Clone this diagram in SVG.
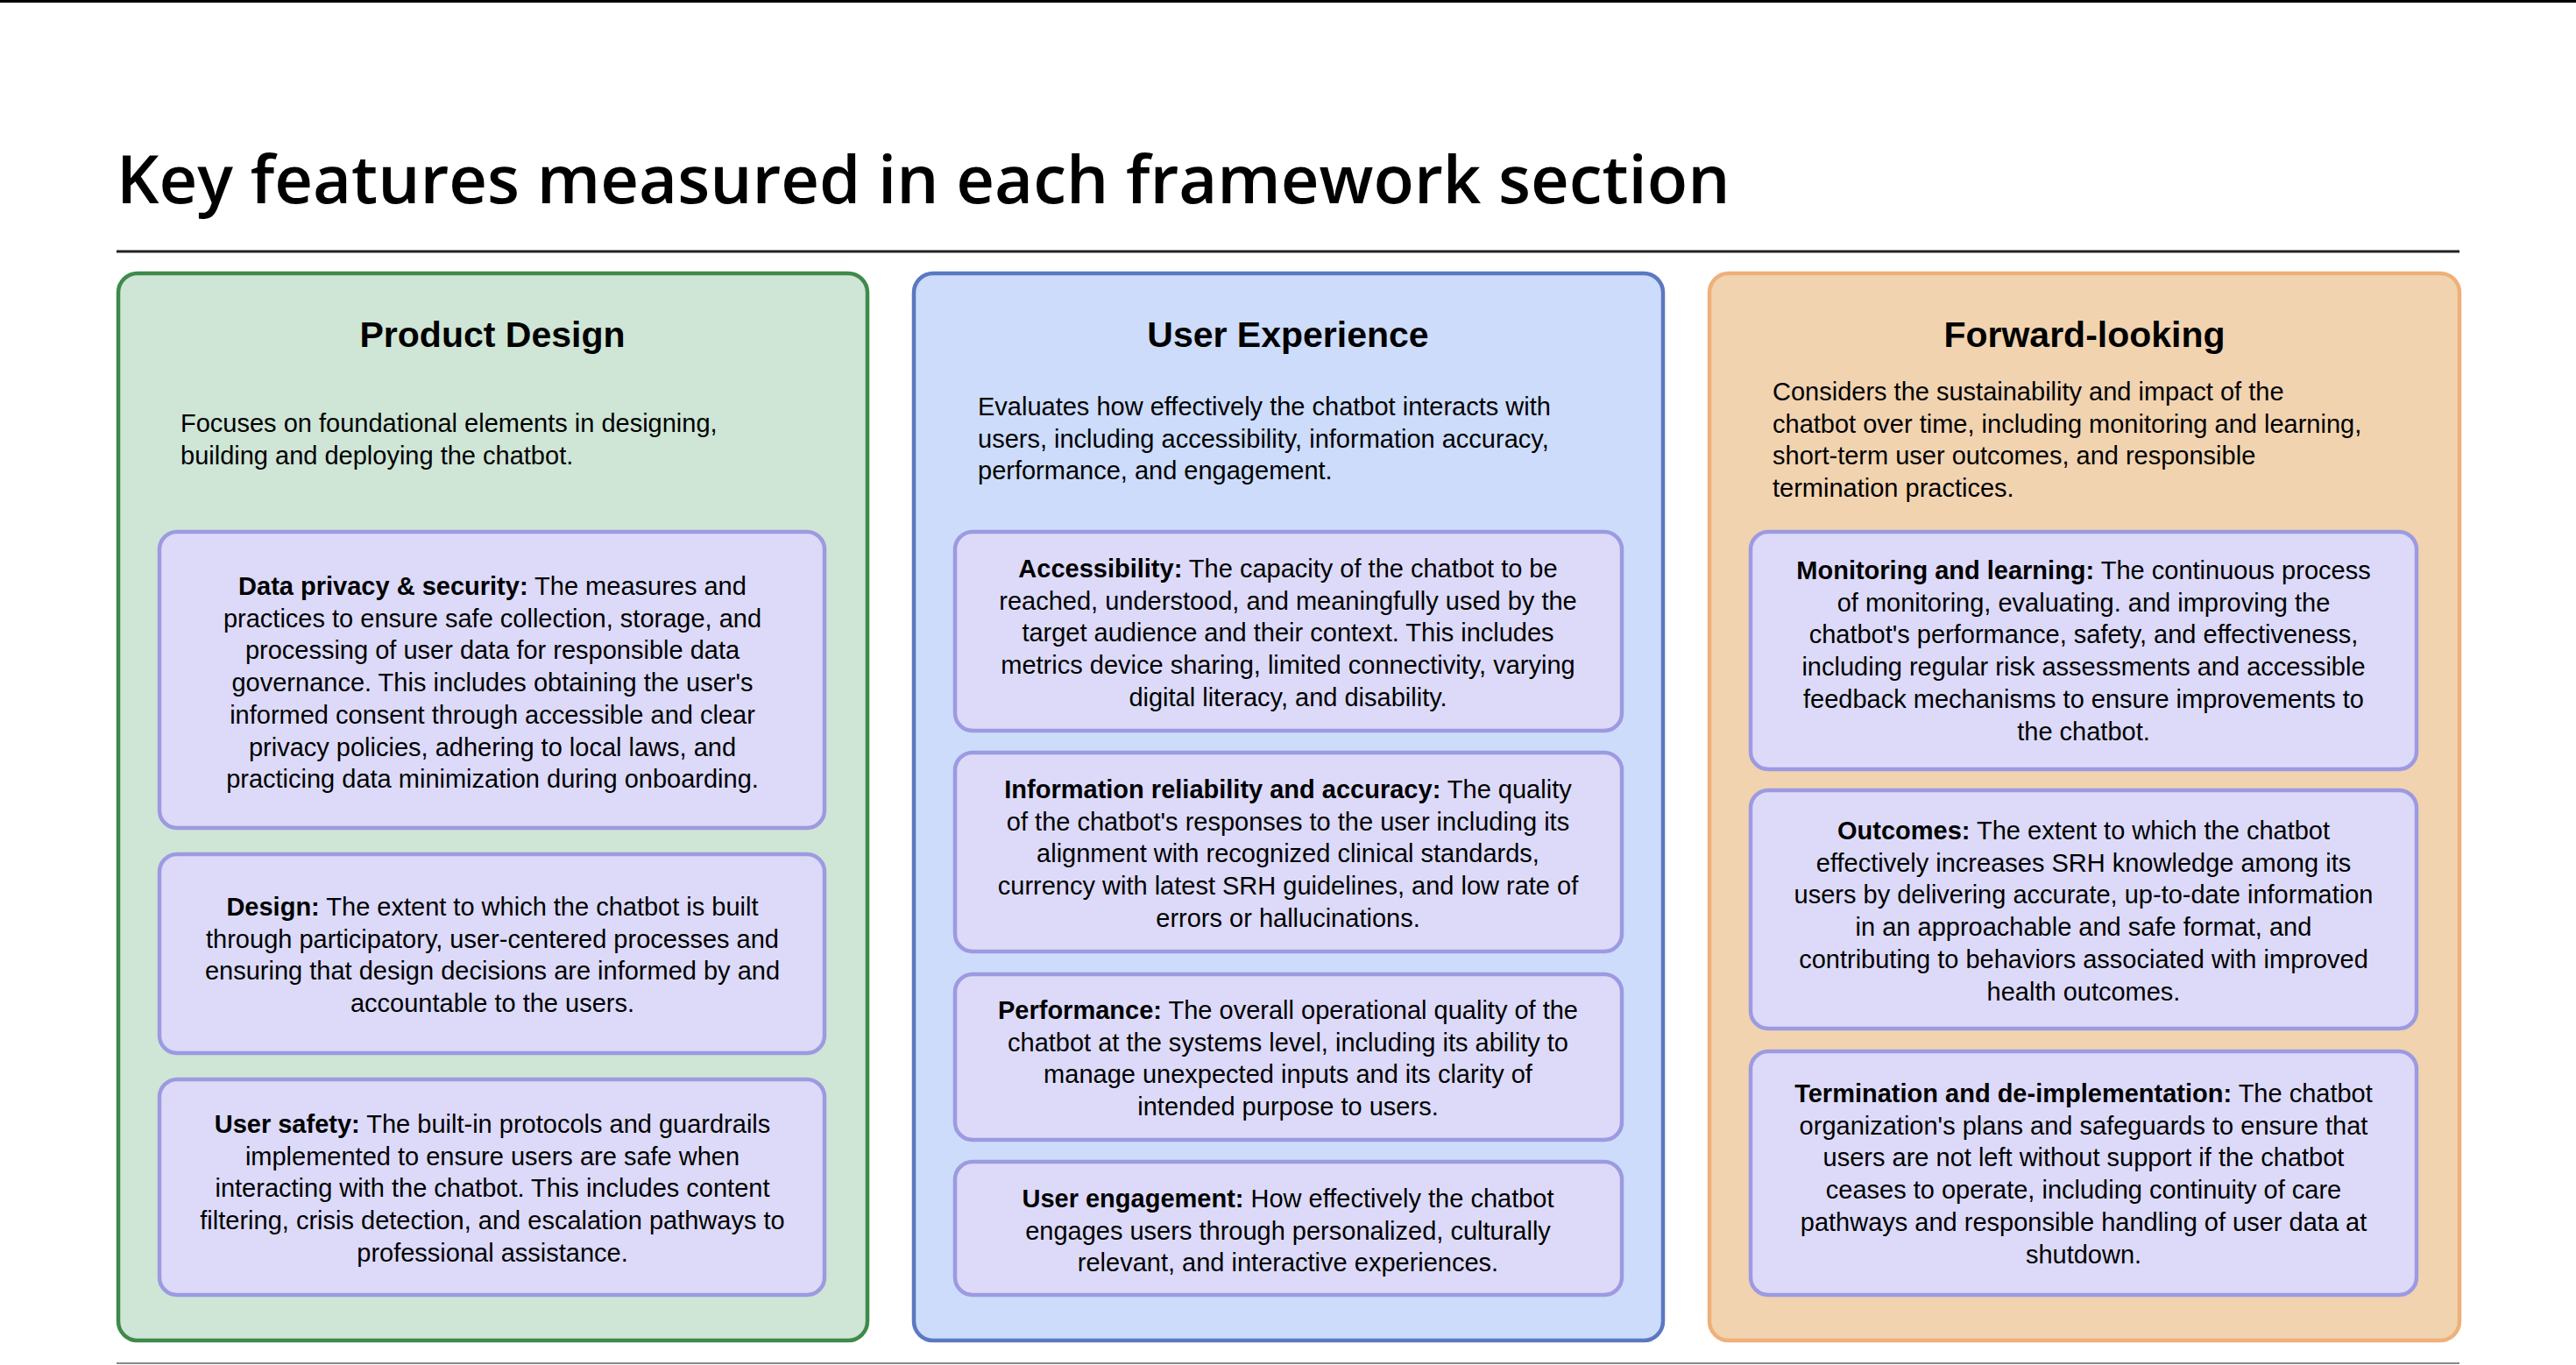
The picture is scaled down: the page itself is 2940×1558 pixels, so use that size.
<svg xmlns="http://www.w3.org/2000/svg" width="2940" height="1558" viewBox="0 0 2940 1558">
<style>
.t{font-family:"Liberation Sans",Arial,sans-serif;font-size:29px;fill:#000}
.c{text-anchor:middle}
.h{font-family:"Liberation Sans",Arial,sans-serif;font-size:41px;font-weight:bold;text-anchor:middle}
.b{font-weight:bold}
.card{fill:#dcdaf8;stroke:#9c9ae0;stroke-width:4.5}
</style>
<rect width="2940" height="1558" fill="#fff"/>
<line x1="0" y1="1.5" x2="2940" y2="1.5" stroke="#000" stroke-width="3"/>
<text x="133" y="232" font-family="'Open Sans','Noto Sans',sans-serif" font-size="76" font-weight="600">Key features measured in each framework section</text>
<line x1="133" y1="287" x2="2807" y2="287" stroke="#222" stroke-width="3"/>
<line x1="133" y1="1556" x2="2807" y2="1556" stroke="#888" stroke-width="2"/>

<g id="product-design">
<rect x="135" y="312" width="855" height="1218" rx="22" fill="#cfe5d6" stroke="#3f8a4a" stroke-width="4.5"/>
<text class="h" x="562" y="396">Product Design</text>
<text class="t" x="206" y="493">Focuses on foundational elements in designing,<tspan x="206" dy="36.7">building and deploying the chatbot.</tspan></text>
</g>
<g id="data-privacy">
<rect class="card" x="182" y="607" width="759" height="338" rx="20"/>
<text class="t c" x="562" y="679"><tspan class="b">Data privacy &amp; security:</tspan> The measures and<tspan x="562" dy="36.7">practices to ensure safe collection, storage, and</tspan><tspan x="562" dy="36.7">processing of user data for responsible data</tspan><tspan x="562" dy="36.7">governance. This includes obtaining the user's</tspan><tspan x="562" dy="36.7">informed consent through accessible and clear</tspan><tspan x="562" dy="36.7">privacy policies, adhering to local laws, and</tspan><tspan x="562" dy="36.7">practicing data minimization during onboarding.</tspan></text>
</g>
<g id="design">
<rect class="card" x="182" y="975" width="759" height="227" rx="20"/>
<text class="t c" x="562" y="1045"><tspan class="b">Design:</tspan> The extent to which the chatbot is built<tspan x="562" dy="36.7">through participatory, user-centered processes and</tspan><tspan x="562" dy="36.7">ensuring that design decisions are informed by and</tspan><tspan x="562" dy="36.7">accountable to the users.</tspan></text>
</g>
<g id="user-safety">
<rect class="card" x="182" y="1232" width="759" height="246" rx="20"/>
<text class="t c" x="562" y="1293"><tspan class="b">User safety:</tspan> The built-in protocols and guardrails<tspan x="562" dy="36.7">implemented to ensure users are safe when</tspan><tspan x="562" dy="36.7">interacting with the chatbot. This includes content</tspan><tspan x="562" dy="36.7">filtering, crisis detection, and escalation pathways to</tspan><tspan x="562" dy="36.7">professional assistance.</tspan></text>
</g>

<g id="user-experience">
<rect x="1043" y="312" width="855" height="1218" rx="22" fill="#cddcfa" stroke="#5b78c2" stroke-width="4.5"/>
<text class="h" x="1470" y="396">User Experience</text>
<text class="t" x="1116" y="474">Evaluates how effectively the chatbot interacts with<tspan x="1116" dy="36.7">users, including accessibility, information accuracy,</tspan><tspan x="1116" dy="36.7">performance, and engagement.</tspan></text>
</g>
<g id="accessibility">
<rect class="card" x="1090" y="607" width="761" height="227" rx="20"/>
<text class="t c" x="1470" y="659"><tspan class="b">Accessibility:</tspan> The capacity of the chatbot to be<tspan x="1470" dy="36.7">reached, understood, and meaningfully used by the</tspan><tspan x="1470" dy="36.7">target audience and their context. This includes</tspan><tspan x="1470" dy="36.7">metrics device sharing, limited connectivity, varying</tspan><tspan x="1470" dy="36.7">digital literacy, and disability.</tspan></text>
</g>
<g id="information-reliability">
<rect class="card" x="1090" y="859" width="761" height="227" rx="20"/>
<text class="t c" x="1470" y="911"><tspan class="b">Information reliability and accuracy:</tspan> The quality<tspan x="1470" dy="36.7">of the chatbot's responses to the user including its</tspan><tspan x="1470" dy="36.7">alignment with recognized clinical standards,</tspan><tspan x="1470" dy="36.7">currency with latest SRH guidelines, and low rate of</tspan><tspan x="1470" dy="36.7">errors or hallucinations.</tspan></text>
</g>
<g id="performance">
<rect class="card" x="1090" y="1112" width="761" height="189" rx="20"/>
<text class="t c" x="1470" y="1163"><tspan class="b">Performance:</tspan> The overall operational quality of the<tspan x="1470" dy="36.7">chatbot at the systems level, including its ability to</tspan><tspan x="1470" dy="36.7">manage unexpected inputs and its clarity of</tspan><tspan x="1470" dy="36.7">intended purpose to users.</tspan></text>
</g>
<g id="user-engagement">
<rect class="card" x="1090" y="1326" width="761" height="152" rx="20"/>
<text class="t c" x="1470" y="1378"><tspan class="b">User engagement:</tspan> How effectively the chatbot<tspan x="1470" dy="36.7">engages users through personalized, culturally</tspan><tspan x="1470" dy="36.7">relevant, and interactive experiences.</tspan></text>
</g>

<g id="forward-looking">
<rect x="1951" y="312" width="856" height="1218" rx="22" fill="#f1d3b0" stroke="#efb07a" stroke-width="4.5"/>
<text class="h" x="2379" y="396">Forward-looking</text>
<text class="t" x="2023" y="457">Considers the sustainability and impact of the<tspan x="2023" dy="36.7">chatbot over time, including monitoring and learning,</tspan><tspan x="2023" dy="36.7">short-term user outcomes, and responsible</tspan><tspan x="2023" dy="36.7">termination practices.</tspan></text>
</g>
<g id="monitoring">
<rect class="card" x="1998" y="607" width="760" height="271" rx="20"/>
<text class="t c" x="2378" y="661"><tspan class="b">Monitoring and learning:</tspan> The continuous process<tspan x="2378" dy="36.7">of monitoring, evaluating. and improving the</tspan><tspan x="2378" dy="36.7">chatbot's performance, safety, and effectiveness,</tspan><tspan x="2378" dy="36.7">including regular risk assessments and accessible</tspan><tspan x="2378" dy="36.7">feedback mechanisms to ensure improvements to</tspan><tspan x="2378" dy="36.7">the chatbot.</tspan></text>
</g>
<g id="outcomes">
<rect class="card" x="1998" y="902" width="760" height="272" rx="20"/>
<text class="t c" x="2378" y="958"><tspan class="b">Outcomes:</tspan> The extent to which the chatbot<tspan x="2378" dy="36.7">effectively increases SRH knowledge among its</tspan><tspan x="2378" dy="36.7">users by delivering accurate, up-to-date information</tspan><tspan x="2378" dy="36.7">in an approachable and safe format, and</tspan><tspan x="2378" dy="36.7">contributing to behaviors associated with improved</tspan><tspan x="2378" dy="36.7">health outcomes.</tspan></text>
</g>
<g id="termination">
<rect class="card" x="1998" y="1200" width="760" height="278" rx="20"/>
<text class="t c" x="2378" y="1258"><tspan class="b">Termination and de-implementation:</tspan> The chatbot<tspan x="2378" dy="36.7">organization's plans and safeguards to ensure that</tspan><tspan x="2378" dy="36.7">users are not left without support if the chatbot</tspan><tspan x="2378" dy="36.7">ceases to operate, including continuity of care</tspan><tspan x="2378" dy="36.7">pathways and responsible handling of user data at</tspan><tspan x="2378" dy="36.7">shutdown.</tspan></text>
</g>
<g id="connectors"/>
</svg>
